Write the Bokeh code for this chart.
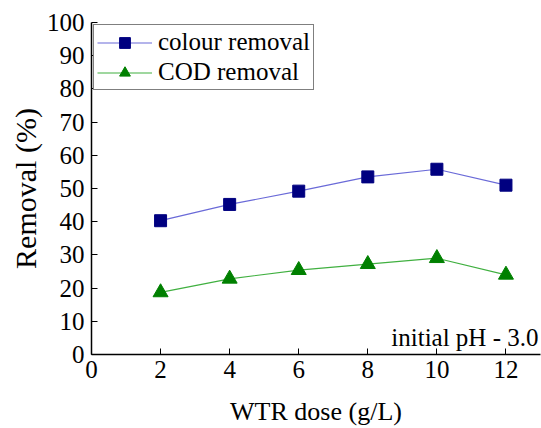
from bokeh.plotting import figure
from bokeh.models import Range1d, Legend, LegendItem, Label, FixedTicker
from bokeh.embed import file_html
from bokeh.resources import INLINE

dose = [2, 4, 6, 8, 10, 12]
colour_removal = [40.3, 45.2, 49.2, 53.5, 55.8, 51.0]
cod_removal = [18.7, 22.8, 25.4, 27.2, 29.0, 24.0]
x_ticks = [0, 2, 4, 6, 8, 10, 12]
y_ticks = [0, 10, 20, 30, 40, 50, 60, 70, 80, 90, 100]

FONT = "Liberation Serif"

p = figure(width=541, height=428, output_backend="svg", toolbar_location=None,
           x_range=Range1d(0, 13), y_range=Range1d(0, 100),
           min_border_left=91, min_border_right=1, min_border_top=22, min_border_bottom=73)
p.outline_line_color = None
p.xgrid.visible = False
p.ygrid.visible = False
p.background_fill_color = "white"

for ax in (p.xaxis[0], p.yaxis[0]):
    ax.axis_line_color = "black"
    ax.axis_line_width = 1.5
    ax.major_tick_in = 6
    ax.major_tick_out = 0
    ax.minor_tick_line_color = None
    ax.major_label_text_font = FONT
    ax.major_label_text_font_size = "25px"
    ax.major_label_text_color = "black"
    ax.axis_label_text_font = FONT
    ax.axis_label_text_font_style = "normal"
    ax.axis_label_text_color = "black"

p.xaxis.axis_label_text_font_size = "26px"
p.yaxis.axis_label_text_font_size = "30px"
p.xaxis.ticker = FixedTicker(ticks=x_ticks)
p.yaxis.ticker = FixedTicker(ticks=y_ticks)
p.xaxis.axis_label = "WTR dose (g/L)"
p.yaxis.axis_label = "Removal (%)"
p.xaxis.major_label_standoff = 6
p.yaxis.major_label_standoff = 7
p.xaxis.axis_label_standoff = 16
p.yaxis.axis_label_standoff = 2

l1 = p.line(dose, colour_removal, line_color="#6a6ad8", line_width=1.2)
s1 = p.scatter(dose, colour_removal, marker="square", size=12, fill_color="#000080", line_color="#000080")
l2 = p.line(dose, cod_removal, line_color="#40b040", line_width=1.2)
s2 = p.scatter(dose, cod_removal, marker="triangle", size=15, fill_color="#008000", line_color="#008000")

legend = Legend(items=[LegendItem(label="colour removal", renderers=[l1, s1]),
                       LegendItem(label="COD removal", renderers=[l2, s2])],
                location="top_left", border_line_color="black", border_line_width=1.5,
                label_text_font=FONT, label_text_font_size="25px", label_text_color="black",
                glyph_width=55, glyph_height=27, label_height=27, spacing=2,
                padding=3, margin=2, label_standoff=6, background_fill_alpha=1)
p.add_layout(legend)

p.add_layout(Label(x=13, y=0, x_offset=-2, y_offset=4, text="initial pH - 3.0",
                   text_font=FONT, text_font_size="25px", text_align="right",
                   text_baseline="bottom", text_color="black"))

open("out.html", "w").write(file_html(p, INLINE))
